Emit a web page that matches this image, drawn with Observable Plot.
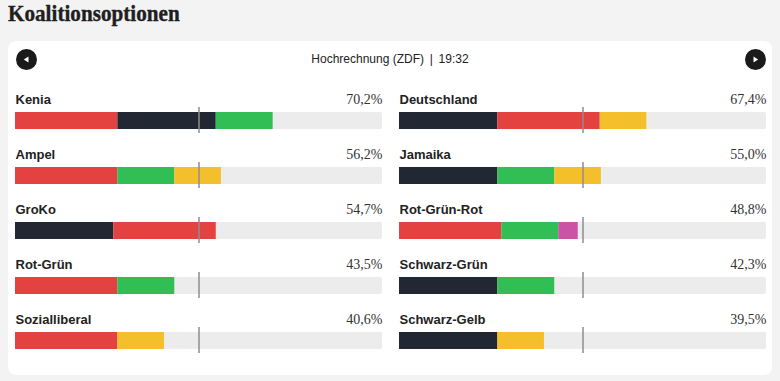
<!DOCTYPE html>
<html><head><meta charset="utf-8">
<script src="https://cdn.jsdelivr.net/npm/d3@7"></script>
<script src="https://cdn.jsdelivr.net/npm/@observablehq/plot@0.6"></script>
<style>
body{margin:0;background:#f3f3f3;width:780px;height:381px;position:relative;overflow:hidden;font-family:"Liberation Sans",Arial,sans-serif;}
#title{position:absolute;left:8px;top:2px;margin:0;font:bold 23px/24px "Liberation Serif",serif;letter-spacing:0;color:#1f1f1f;white-space:nowrap;-webkit-text-stroke:0.4px #1f1f1f;transform:scaleX(0.92);transform-origin:0 0;}
#card{position:absolute;left:8px;top:41px;width:764px;height:334px;background:#fff;border-radius:8px;}
.btn{position:absolute;top:8px;width:21px;height:21px;}
#head{position:absolute;left:0;top:11px;width:764px;text-align:center;font-size:12px;line-height:14px;color:#222;white-space:nowrap;}
#chart{position:absolute;left:0;top:39px;}
</style></head>
<body>
<h2 id="title">Koalitionsoptionen</h2>
<div id="card">
  <svg class="btn" style="left:7.5px" viewBox="0 0 21 21"><circle cx="10.5" cy="10.5" r="10.5" fill="#1a1a1a"/><path d="M12.5 7.5 L7.8 10.5 L12.5 13.5 Z" fill="#fff"/></svg>
  <div id="head">Hochrechnung (ZDF)&thinsp; | &thinsp;19:32</div>
  <svg class="btn" style="left:736.5px" viewBox="0 0 21 21"><circle cx="10.5" cy="10.5" r="10.5" fill="#1a1a1a"/><path d="M8.5 7.5 L13.2 10.5 L8.5 13.5 Z" fill="#fff"/></svg>
  <div id="chart"></div>
</div>
<script>
const coalitions = ["Kenia","Ampel","GroKo","Rot-Grün","Sozialliberal","Deutschland","Jamaika","Rot-Grün-Rot","Schwarz-Grün","Schwarz-Gelb"];
const totals = [70.2, 56.2, 54.7, 43.5, 40.6, 67.4, 55.0, 48.8, 42.3, 39.5];
const members = [
  ["SPD","CDU","Grüne"],
  ["SPD","Grüne","FDP"],
  ["CDU","SPD"],
  ["SPD","Grüne"],
  ["SPD","FDP"],
  ["CDU","SPD","FDP"],
  ["CDU","Grüne","FDP"],
  ["SPD","Grüne","Linke"],
  ["CDU","Grüne"],
  ["CDU","FDP"]
];
const parties = ["SPD","CDU","Grüne","FDP","Linke"];
const shares = [27.9, 26.8, 15.5, 12.7, 5.3];
const partyColors = ["#e44141","#212833","#31be54","#f3c02b","#cc52a6"];
const majority = 50;
const columns = ["links","rechts"];

const rows = coalitions.map((name, i) => ({name, total: totals[i], col: columns[Math.floor(i / 5)], row: i % 5}));
const segs = rows.flatMap((r, i) => members[i].map(p => ({...r, party: p, value: shares[parties.indexOf(p)]})));
const fmt = v => d3.format(".1f")(v).replace(".", ",") + "%";

const chart = Plot.plot({
  width: 764,
  height: 295,
  marginLeft: 7,
  marginRight: 6,
  marginTop: 31,
  marginBottom: 25,
  style: {fontFamily: "'Liberation Sans', Arial, sans-serif", background: "transparent"},
  x: {domain: [0, 100], axis: null},
  y: {domain: [0, 1, 2, 3, 4], axis: null, paddingInner: 0.694, paddingOuter: 0},
  fx: {domain: columns, axis: null, paddingInner: 0.0443, paddingOuter: 0},
  color: {domain: parties, range: partyColors},
  marks: [
    Plot.barX(rows, {x1: 0, x2: 100, y: "row", fx: "col", fill: "#ececec", rx: 2}),
    Plot.barX(segs, Plot.stackX({x: "value", y: "row", fx: "col", fill: "party"})),
    Plot.tickX(rows, {x: () => majority, y: "row", fx: "col", stroke: "#8e8e8e", strokeWidth: 1.5, insetTop: -5, insetBottom: -4}),
    Plot.text(rows, {x: 0, y: "row", fx: "col", text: "name", textAnchor: "start", lineAnchor: "bottom", dy: -17.5, fontWeight: "bold", fontSize: 13, fill: "#222"}),
    Plot.text(rows, {x: 100, y: "row", fx: "col", text: d => fmt(d.total), textAnchor: "end", lineAnchor: "bottom", dy: -17, fontSize: 14, fontFamily: "'Liberation Serif', serif", fill: "#333"})
  ]
});
document.getElementById("chart").appendChild(chart);
</script>
</body></html>
